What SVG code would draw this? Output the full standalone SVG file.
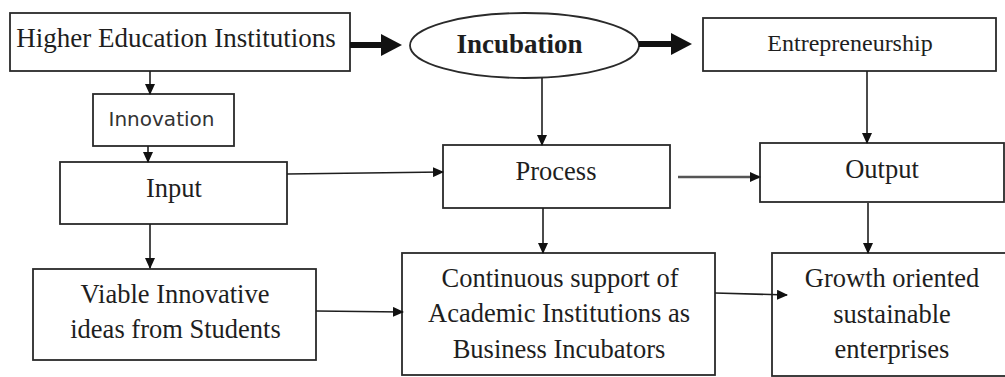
<svg xmlns="http://www.w3.org/2000/svg" width="1005" height="377" viewBox="0 0 1005 377">
  <style>
    .box { fill: #ffffff; stroke: #2a2a2a; stroke-width: 1.8; }
    .t { font-family: "Liberation Serif", "Times New Roman", serif; font-size: 26.5px; fill: #1e1e1e; text-anchor: middle; }
    .sans { font-family: "DejaVu Sans", sans-serif; font-size: 20px; fill: #333333; text-anchor: middle; }
    .link { fill: none; stroke: #1e1e1e; stroke-width: 1.6; marker-end: url(#head); }
    .heavy { fill: none; stroke: #111111; stroke-width: 6; marker-end: url(#bighead); }
  </style>
  <defs>
    <marker id="head" markerUnits="userSpaceOnUse" markerWidth="11" markerHeight="10" refX="10" refY="5" orient="auto">
      <path d="M0,0 L11,5 L0,10 z" fill="#111111"/>
    </marker>
    <marker id="bighead" markerUnits="userSpaceOnUse" markerWidth="21" markerHeight="22" refX="0" refY="11" orient="auto">
      <path d="M0,0 L21,11 L0,22 z" fill="#111111"/>
    </marker>
  </defs>

  <rect width="1005" height="377" fill="#ffffff"/>

  <g id="higher-education">
    <rect class="box" x="10" y="13" width="340" height="58"/>
    <text class="t" x="176" y="47" style="font-size:27px">Higher Education Institutions</text>
  </g>

  <g id="incubation">
    <ellipse cx="524.5" cy="45.5" rx="114.5" ry="32.5" fill="#ffffff" stroke="#2a2a2a" stroke-width="1.8"/>
    <text class="t" x="519.5" y="53" style="font-size:27px;font-weight:bold">Incubation</text>
  </g>

  <g id="entrepreneurship">
    <rect class="box" x="703" y="18" width="293" height="53"/>
    <text class="t" x="850" y="51" style="font-size:24px">Entrepreneurship</text>
  </g>

  <g id="innovation">
    <rect class="box" x="93" y="94" width="141" height="52"/>
    <text class="sans" x="161.5" y="126">Innovation</text>
  </g>

  <g id="input">
    <rect class="box" x="60" y="162" width="227" height="62"/>
    <text class="t" x="174" y="197">Input</text>
  </g>

  <g id="process">
    <rect class="box" x="443" y="145" width="227" height="63"/>
    <text class="t" x="556" y="180">Process</text>
  </g>

  <g id="output">
    <rect class="box" x="760" y="143" width="244" height="59"/>
    <text class="t" x="882" y="178">Output</text>
  </g>

  <g id="viable-ideas">
    <rect class="box" x="33" y="269" width="283" height="91"/>
    <text class="t" x="175" y="303">Viable Innovative</text>
    <text class="t" x="175.5" y="338">ideas from Students</text>
  </g>

  <g id="continuous-support">
    <rect class="box" x="402" y="253" width="313" height="122"/>
    <text class="t" x="560" y="287">Continuous support of</text>
    <text class="t" x="559" y="322">Academic Institutions as</text>
    <text class="t" x="559" y="358">Business Incubators</text>
  </g>

  <g id="growth-enterprises">
    <rect class="box" x="772" y="253" width="240" height="123"/>
    <text class="t" x="892" y="287">Growth oriented</text>
    <text class="t" x="892" y="323">sustainable</text>
    <text class="t" x="892" y="358">enterprises</text>
  </g>

  <g id="connectors">
    <!-- heavy top-row arrows -->
    <line class="heavy" x1="350" y1="45" x2="381" y2="45"/>
    <line class="heavy" x1="639" y1="44" x2="671" y2="44"/>
    <!-- left column -->
    <line class="link" x1="150" y1="71" x2="150" y2="94"/>
    <line class="link" x1="148" y1="146" x2="148" y2="162"/>
    <line class="link" x1="150" y1="224" x2="150" y2="268"/>
    <!-- middle column -->
    <line class="link" x1="542" y1="78" x2="542" y2="145"/>
    <line class="link" x1="543" y1="208" x2="543" y2="253"/>
    <!-- right column -->
    <line class="link" x1="867" y1="71" x2="867" y2="143"/>
    <line class="link" x1="868" y1="203" x2="868" y2="253"/>
    <!-- horizontal links -->
    <line class="link" x1="287" y1="174" x2="443" y2="172"/>
    <line class="link" x1="678" y1="177" x2="760" y2="177" style="stroke:#555555;stroke-width:2.6"/>
    <line class="link" x1="316" y1="311" x2="403" y2="312"/>
    <line class="link" x1="715" y1="293" x2="787" y2="295"/>
  </g>
</svg>
